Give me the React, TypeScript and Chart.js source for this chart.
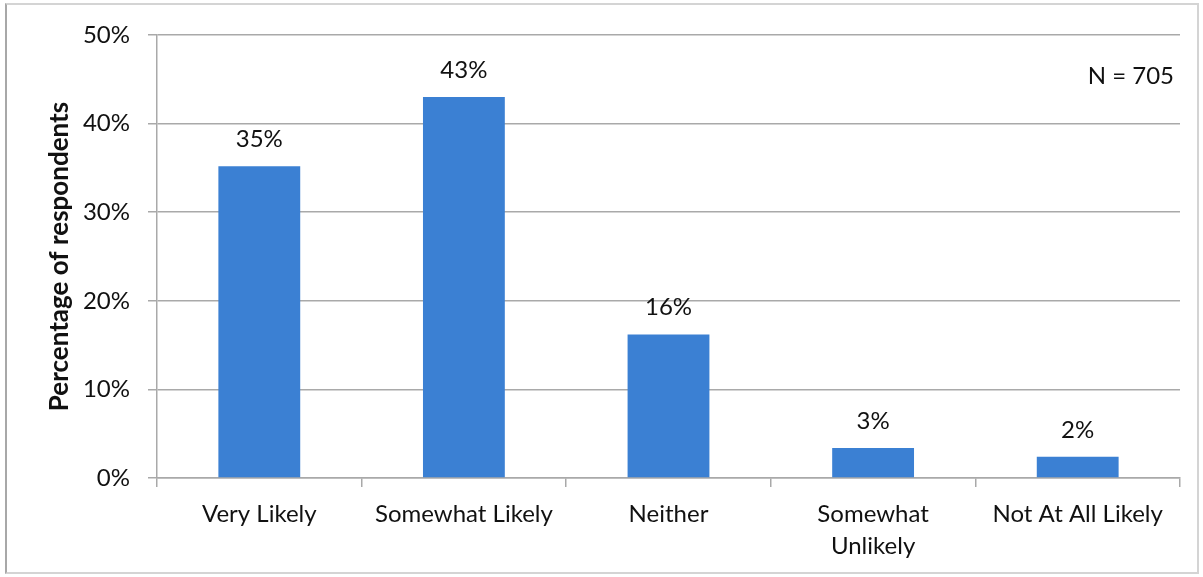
import React, { useEffect, useRef } from "react";
import { Chart, registerables } from "chart.js";

Chart.register(...registerables);

const categories: (string | string[])[] = [
  "Very Likely",
  "Somewhat Likely",
  "Neither",
  ["Somewhat", "Unlikely"],
  "Not At All Likely",
];
const percentages = [35.2, 43.0, 16.2, 3.4, 2.4];
const yTicks = [0, 10, 20, 30, 40, 50];
const sampleNote = "N = 705";
const yTitle = "Percentage of respondents";

const FONT = "Lato, 'Open Sans', sans-serif";
const TEXT = "#111111";
const GRID = "#a9a9a9";
const BAR = "#3b80d3";

// Writes each bar's rounded percentage above it, plus the sample size note.
const annotations = {
  id: "annotations",
  afterDatasetsDraw(chart: any) {
    const { ctx, chartArea } = chart;
    const meta = chart.getDatasetMeta(0);
    ctx.save();
    ctx.fillStyle = TEXT;
    ctx.font = `24px ${FONT}`;
    ctx.textAlign = "center";
    ctx.textBaseline = "alphabetic";
    meta.data.forEach((bar: any, i: number) => {
      ctx.fillText(`${Math.round(percentages[i])}%`, bar.x, bar.y - 19);
    });
    ctx.textAlign = "right";
    ctx.fillText(sampleNote, chartArea.right - 6, chartArea.top + 49);
    ctx.restore();
  },
};

export default function App() {
  const canvasRef = useRef<HTMLCanvasElement | null>(null);

  useEffect(() => {
    if (!canvasRef.current) return;
    const chart = new Chart(canvasRef.current, {
      type: "bar",
      data: {
        labels: categories,
        datasets: [
          {
            data: percentages,
            backgroundColor: BAR,
            borderWidth: 0,
            categoryPercentage: 0.8,
            barPercentage: 0.5,
          },
        ],
      },
      options: {
        animation: false,
        responsive: false,
        maintainAspectRatio: false,
        events: [],
        layout: { padding: { top: 35, right: 23, left: 0, bottom: 0 } },
        plugins: {
          legend: { display: false },
          tooltip: { enabled: false },
        },
        scales: {
          x: {
            grid: {
              offset: true,
              drawOnChartArea: false,
              drawTicks: true,
              tickLength: 9,
              color: GRID,
              lineWidth: 1.5,
            },
            border: { color: GRID, width: 1.5 },
            ticks: {
              color: TEXT,
              font: { family: FONT, size: 24, lineHeight: 1.33 },
              padding: 11,
              maxRotation: 0,
              autoSkip: false,
            },
            afterFit(scale: any) {
              scale.height = 99;
            },
          },
          y: {
            min: 0,
            max: 50,
            afterBuildTicks(scale: any) {
              scale.ticks = yTicks.map((v) => ({ value: v }));
            },
            grid: {
              color: GRID,
              lineWidth: 1.5,
              tickLength: 9,
            },
            border: { color: GRID, width: 1.5 },
            ticks: {
              color: TEXT,
              font: { family: FONT, size: 24 },
              padding: 18,
              callback: (v: any) => `${v}%`,
            },
            title: {
              display: true,
              text: yTitle,
              color: TEXT,
              font: { family: FONT, size: 26, weight: "bold" },
              padding: { top: 44, bottom: 0 },
            },
            afterFit(scale: any) {
              scale.width = 157;
            },
          },
        },
      },
      plugins: [annotations],
    });
    return () => chart.destroy();
  }, []);

  return (
    <div
      style={{
        position: "fixed",
        left: 0,
        top: 0,
        width: 1203,
        height: 577,
        background: "#ffffff",
      }}
    >
      <div
        style={{
          position: "absolute",
          left: 5,
          top: 3,
          width: 1194,
          height: 571,
          border: "2px solid #d4d4d4",
          borderLeftColor: "#a8a8a8",
          boxSizing: "border-box",
        }}
      />
      <canvas
        ref={canvasRef}
        width={1203}
        height={577}
        style={{ position: "absolute", left: 0, top: 0 }}
      />
    </div>
  );
}
